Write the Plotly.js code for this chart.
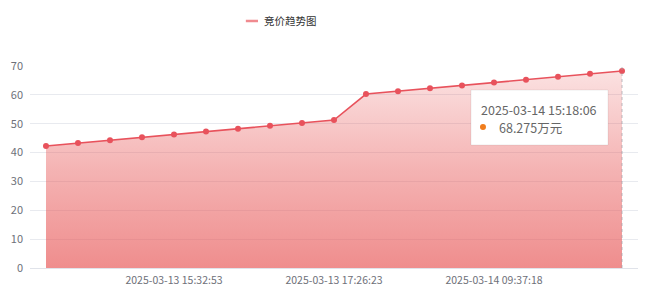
<!DOCTYPE html>
<html>
<head>
<meta charset="utf-8">
<script src="https://cdn.plot.ly/plotly-3.0.1.min.js"></script>
<style>
  html, body { margin: 0; padding: 0; background: #fff; }
  #chart { width: 650px; height: 302px; }
</style>
</head>
<body>
<div id="chart"></div>
<script>
// Bid times (category axis) and bid amounts in 万元
const bidTimes = [
  "2025-03-13 14:05:12", "2025-03-13 14:31:40", "2025-03-13 14:48:27",
  "2025-03-13 15:10:05", "2025-03-13 15:32:53", "2025-03-13 15:58:31",
  "2025-03-13 16:20:44", "2025-03-13 16:47:09", "2025-03-13 17:02:36",
  "2025-03-13 17:26:23", "2025-03-13 18:14:50", "2025-03-13 20:36:02",
  "2025-03-14 08:52:41", "2025-03-14 09:15:27", "2025-03-14 09:37:18",
  "2025-03-14 11:08:45", "2025-03-14 13:42:19", "2025-03-14 14:50:33",
  "2025-03-14 15:18:06"
];
const bidPrices = [
  42.275, 43.275, 44.275, 45.275, 46.275, 47.275, 48.275, 49.275, 50.275,
  51.275, 60.275, 61.275, 62.275, 63.275, 64.275, 65.275, 66.275, 67.275,
  68.275
];
const shownTicks = [bidTimes[4], bidTimes[9], bidTimes[14]];
const yTicks = [0, 10, 20, 30, 40, 50, 60, 70];
const seriesName = "竞价趋势图";
const unit = "万元";

const lineColor = "#e8525c";
const FONT = '"Noto Sans CJK SC", "Noto Sans", sans-serif';

const last = bidPrices.length - 1;

const trace = {
  type: "scatter",
  mode: "lines+markers",
  x: bidTimes,
  y: bidPrices,
  name: seriesName,
  showlegend: false,
  line: { color: lineColor, width: 1.6 },
  marker: { color: lineColor, size: 6 },
  fill: "tozeroy",
  fillgradient: {
    type: "vertical",
    start: 0,
    stop: Math.max(...bidPrices),
    colorscale: [
      [0, "rgba(232,90,90,0.69)"],
      [0.5, "rgba(232,90,90,0.46)"],
      [1, "rgba(232,90,90,0.18)"]
    ]
  },
  hoverinfo: "none"
};

// tooltip box placement (paper coordinates)
const tipX0 = 0.7253, tipX1 = 0.9507, tipY0 = 0.609, tipY1 = 0.881;

const layout = {
  width: 650,
  height: 302,
  margin: { l: 30, r: 12, t: 66, b: 34 },
  paper_bgcolor: "#fff",
  plot_bgcolor: "#fff",
  font: { family: FONT, size: 11, color: "#6e7079" },
  xaxis: {
    type: "category",
    range: [-0.5, bidTimes.length - 0.5],
    tickmode: "array",
    tickvals: shownTicks,
    ticktext: shownTicks,
    showgrid: false,
    showline: true,
    linecolor: "#e0e3ea",
    linewidth: 1,
    ticks: "",
    ticklabelstandoff: 2,
    tickfont: { size: 10.5, color: "#6e7079" },
    fixedrange: true
  },
  yaxis: {
    range: [0, 70],
    tickmode: "array",
    tickvals: yTicks,
    showgrid: true,
    gridcolor: "#e8eaef",
    zeroline: false,
    showline: false,
    ticks: "",
    ticklabelstandoff: 6,
    tickfont: { size: 11, color: "#6e7079" },
    fixedrange: true
  },
  shapes: [
    // legend swatch
    {
      type: "line", xref: "paper", yref: "paper",
      x0: 0.355, x1: 0.375, y0: 1.2228, y1: 1.2228,
      line: { color: "#f08a8f", width: 2.5 }
    },
    // pointer line at the hovered bid
    {
      type: "line", xref: "x", yref: "paper",
      x0: last, x1: last, y0: 0, y1: 1,
      line: { color: "rgba(160,160,170,0.7)", width: 1, dash: "dot" }
    },
    // tooltip panel
    {
      type: "rect", xref: "paper", yref: "paper",
      x0: tipX0, x1: tipX1, y0: tipY0, y1: tipY1,
      fillcolor: "#ffffff",
      line: { color: "rgba(0,0,0,0.07)", width: 1 },
      layer: "above"
    },
    // series marker dot inside tooltip
    {
      type: "circle", xref: "paper", yref: "paper",
      xsizemode: "pixel", ysizemode: "pixel",
      xanchor: tipX0 + 12 / 608, yanchor: (268 - 127) / 202,
      x0: -3, x1: 3, y0: -3, y1: 3,
      fillcolor: "#f07d1c", line: { width: 0 },
      layer: "above"
    }
  ],
  annotations: [
    {
      xref: "paper", yref: "paper",
      x: 0.3816, y: 1.2228, xanchor: "left", yanchor: "middle",
      text: seriesName, showarrow: false,
      font: { family: FONT, size: 10.5, color: "#333" }
    },
    {
      xref: "paper", yref: "paper",
      x: tipX0 + 8 / 608, y: (268 - 109) / 202, xanchor: "left", yanchor: "middle",
      showarrow: false,
      text: bidTimes[last],
      font: { family: FONT, size: 12.5, color: "#666" }
    },
    {
      xref: "paper", yref: "paper",
      x: tipX0 + 26 / 608, y: (268 - 127) / 202, xanchor: "left", yanchor: "middle",
      showarrow: false,
      text: bidPrices[last] + unit,
      font: { family: FONT, size: 12.5, color: "#666" }
    }
  ]
};

Plotly.newPlot("chart", [trace], layout, { staticPlot: true, displayModeBar: false });
</script>
</body>
</html>
